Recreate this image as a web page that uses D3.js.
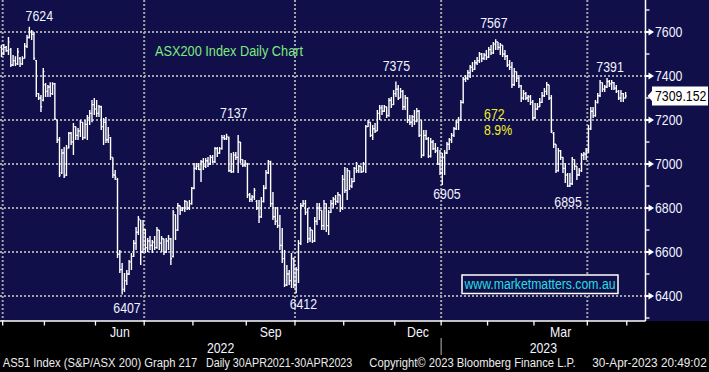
<!DOCTYPE html>
<html><head><meta charset="utf-8">
<script src="https://cdn.jsdelivr.net/npm/d3@7"></script>
<style>html,body{margin:0;padding:0;background:#000;}svg{display:block;}</style>
</head><body>
<svg id="c" width="709" height="372"></svg>
<script>
// ---- DATA (ASX200 daily OHLC, 31 Mar 2022 .. 28 Apr 2023, trading-day index) ----
const ohlc = [
[7530,7541,7486,7500],[7500,7545,7495,7530],[7530,7536,7510,7515],[7515,7577,7495,7555],[7520,7527,7441,7450],
[7450,7495,7445,7470],[7470,7490,7445,7455],[7455,7527,7450,7510],[7480,7486,7441,7455],[7455,7490,7450,7480],
[7480,7550,7480,7535],[7535,7586,7527,7575],[7575,7624,7570,7600],[7600,7609,7564,7590],[7590,7600,7473,7480],
[7470,7473,7305,7320],[7320,7323,7291,7300],[7300,7314,7236,7260],[7290,7436,7285,7420],[7360,7368,7305,7330],
[7330,7359,7305,7350],[7350,7372,7305,7320],[7320,7372,7314,7365],[7365,7368,7200,7205],[7200,7200,7095,7110],
[7110,7123,6941,6950],[6960,7068,6955,7050],[7050,7077,6936,6945],[6950,7086,6945,7070],[7075,7145,7070,7140],
[7140,7145,7086,7100],[7100,7186,7041,7170],[7170,7170,7109,7130],[7130,7164,7109,7150],[7150,7200,7123,7190],
[7190,7190,7109,7120],[7120,7200,7115,7180],[7180,7223,7109,7210],[7210,7245,7177,7230],[7230,7291,7190,7270],
[7270,7300,7223,7250],[7250,7291,7214,7230],[7230,7268,7214,7260],[7260,7265,7155,7170],[7170,7209,7086,7190],
[7190,7214,7095,7110],[7110,7168,7095,7130],[7120,7123,7018,7030],[7030,7030,6936,6950],[6950,6973,6927,6940],
[6930,6936,6573,6590],[6590,6609,6505,6520],[6520,6550,6407,6430],[6430,6505,6418,6470],[6470,6518,6450,6500],
[6500,6564,6495,6555],[6555,6595,6518,6580],[6580,6655,6577,6640],[6640,6714,6609,6690],[6690,6764,6677,6750],
[6745,6745,6541,6600],[6600,6745,6595,6700],[6700,6705,6595,6620],[6620,6664,6600,6650],[6650,6673,6609,6630],
[6630,6655,6595,6645],[6645,6673,6609,6620],[6620,6714,6615,6700],[6700,6700,6609,6640],[6640,6673,6600,6660],
[6660,6660,6586,6600],[6600,6664,6595,6650],[6650,6677,6609,6660],[6660,6664,6541,6570],[6580,6791,6575,6780],
[6770,6770,6655,6700],[6700,6823,6695,6810],[6810,6810,6768,6790],[6790,6805,6785,6800],[6800,6836,6782,6830],
[6830,6830,6791,6800],[6800,6836,6791,6820],[6820,6895,6815,6890],[6890,7005,6885,6980],[6980,7005,6973,6990],
[6990,7005,6973,6975],[6975,7018,6918,7010],[7010,7027,6973,6990],[6990,7027,6982,7015],[7015,7032,6986,7000],
[7000,7041,6995,7030],[7030,7041,7005,7010],[7010,7077,7005,7070],[7070,7077,7032,7050],[7050,7077,7045,7070],
[7070,7132,7065,7120],[7120,7132,7109,7115],[7115,7137,7109,7125],[7120,7125,6964,6970],[6970,7050,6959,6965],
[6965,7055,6960,7040],[7040,7055,7018,7030],[7030,7132,6959,7100],[7100,7100,7005,7020],[7020,7020,6986,6995],
[6995,7018,6986,7005],[7000,7005,6845,6860],[6860,6868,6827,6840],[6840,6859,6827,6850],[6850,6891,6836,6880],
[6830,6836,6791,6800],[6800,6836,6732,6760],[6760,6850,6755,6830],[6830,6905,6825,6890],[6890,6973,6885,6960],
[6960,7018,6955,7010],[7010,7015,6805,6820],[6820,6873,6745,6760],[6760,6805,6723,6740],[6740,6805,6709,6720],
[6720,6768,6609,6630],[6630,6709,6550,6570],[6570,6609,6441,6450],[6450,6541,6445,6500],[6500,6518,6450,6470],
[6470,6595,6436,6570],[6570,6575,6436,6450],[6450,6532,6412,6520],[6520,6655,6459,6640],[6640,6823,6632,6810],
[6810,6836,6805,6820],[6820,6836,6768,6780],[6780,6800,6641,6660],[6660,6714,6645,6700],[6700,6700,6641,6650],
[6650,6759,6645,6740],[6740,6823,6723,6800],[6800,6823,6745,6790],[6790,6790,6700,6720],[6720,6836,6700,6820],
[6820,6820,6691,6720],[6720,6791,6677,6780],[6780,6836,6777,6820],[6820,6850,6800,6840],[6840,6859,6814,6830],
[6830,6873,6823,6860],[6860,6860,6782,6800],[6800,6950,6791,6930],[6930,6986,6868,6880],[6880,6982,6836,6970],
[6970,6970,6882,6900],[6900,6936,6891,6920],[6920,6986,6918,6980],[6980,7009,6959,6970],[6970,6995,6959,6990],
[6990,6990,6959,6965],[6965,7009,6964,7000],[7000,7177,6959,7170],[7170,7200,7168,7190],[7190,7190,7123,7130],
[7130,7177,7109,7160],[7160,7186,7141,7150],[7150,7245,7150,7230],[7230,7268,7200,7255],[7255,7268,7223,7240],
[7240,7268,7236,7260],[7260,7260,7209,7220],[7220,7300,7215,7290],[7290,7305,7254,7270],[7270,7336,7268,7320],
[7320,7375,7305,7340],[7340,7359,7291,7300],[7300,7345,7300,7330],[7330,7336,7245,7260],[7260,7314,7245,7300],
[7300,7305,7186,7200],[7200,7223,7177,7190],[7190,7223,7168,7215],[7215,7245,7177,7195],[7195,7254,7190,7240],
[7240,7245,7123,7130],[7130,7200,7027,7040],[7040,7155,7035,7130],[7130,7155,7109,7115],[7115,7123,7027,7035],
[7035,7118,7030,7100],[7100,7109,7064,7070],[7070,7095,7050,7060],[7060,7077,6995,7000],[7000,7064,6950,6960],
[6960,7050,6905,7030],[7030,7064,6950,7050],[7050,7100,7045,7090],[7090,7118,7064,7110],[7110,7141,7095,7130],
[7130,7168,7123,7160],[7160,7200,7155,7190],[7190,7214,7155,7200],[7200,7291,7195,7280],[7280,7395,7275,7385],
[7385,7405,7373,7390],[7390,7427,7382,7415],[7415,7450,7391,7440],[7440,7464,7418,7430],[7430,7473,7427,7460],
[7460,7486,7450,7470],[7470,7509,7459,7500],[7500,7505,7464,7480],[7480,7505,7473,7495],[7495,7518,7473,7485],
[7485,7532,7482,7520],[7520,7541,7495,7505],[7505,7555,7500,7545],[7545,7567,7518,7555],[7555,7555,7518,7530],
[7530,7550,7495,7540],[7540,7540,7486,7500],[7500,7518,7473,7490],[7490,7495,7441,7450],[7450,7473,7427,7440],
[7440,7464,7345,7360],[7360,7436,7355,7420],[7420,7420,7373,7390],[7390,7405,7345,7355],[7355,7359,7282,7300],
[7300,7336,7291,7320],[7320,7327,7291,7300],[7300,7314,7282,7305],[7305,7314,7268,7280],[7280,7291,7200,7210],
[7210,7277,7205,7250],[7250,7277,7245,7260],[7260,7300,7259,7280],[7280,7327,7277,7310],[7310,7345,7305,7330],
[7330,7373,7314,7360],[7360,7360,7291,7300],[7300,7314,7141,7150],[7140,7145,7073,7090],[7090,7090,6959,6970],
[6970,7073,6965,7060],[7060,7064,7018,7030],[7030,7032,6959,6980],[6980,7005,6914,6950],[6950,6959,6895,6900],
[6900,6959,6895,6910],[6910,7032,6905,7020],[7020,7020,6973,6990],[6990,6990,6927,6950],[6950,6982,6945,6970],
[6970,7050,6964,7040],[7040,7055,7018,7045],[7045,7073,7018,7060],[7060,7177,7050,7160],[7160,7259,7155,7240],
[7240,7259,7209,7220],[7220,7291,7215,7280],[7280,7323,7275,7310],[7310,7382,7305,7370],[7370,7370,7327,7340],
[7340,7359,7327,7350],[7350,7391,7345,7375],[7375,7382,7350,7365],[7365,7382,7336,7370],[7370,7373,7336,7345],
[7345,7359,7323,7330],[7330,7336,7291,7300],[7300,7336,7282,7320],[7320,7323,7282,7300],[7300,7327,7298,7309.152]
];
const lastPrice = 7309.152;

// first trading day (index) of each month, Apr 2022 .. May 2023
const monthTickIdx = [1,19,41,62,83,106,127,148,170,190,210,230,253,270];
const monthNames   = ["Apr","May","Jun","Jul","Aug","Sep","Oct","Nov","Dec","Jan","Feb","Mar","Apr"];
const shownMonths  = ["Jun","Sep","Dec","Mar"];
const quarterTickIdx = [1,62,127,190,253];
const yearLabels = ["2022","2023"];
const yearStartIdx = 190;

const yMajor = [6400,6600,6800,7000,7200,7400,7600];
const yMinor = [6300,6500,6700,6900,7100,7300,7500,7700];

// annotations: text, anchor index, anchor price
const peakTexts  = ["7624","7137","7375","7567","7391","6905","6895","6407","6412"];
const peakIdx    = [16.3, 100.1, 170.2, 212.2, 262.3, 192.0, 244.2, 54.1, 130.1];
const peakPrice  = [7650, 7209, 7423, 7618, 7420, 6841, 6804, 6323, 6341];
const moveTexts  = ["672","8.9%"];
const moveIdx    = [208.0, 208.0];
const movePrice  = [7204.5, 7131.8];

const titleText = "ASX200 Index Daily Chart";
const urlText = "www.marketmatters.com.au";
const footerTexts = ["AS51 Index (S&P/ASX 200) Graph 217","Daily 30APR2021-30APR2023","Copyright\u00A9 2023 Bloomberg Finance L.P.","30-Apr-2023 20:49:02"];

// ---- DRAWING ----
const W = 709, H = 372;
const NAVY = "#100f4a";
const FONT = "'Liberation Sans', Arial, sans-serif";
const plotR = 645.5, plotB = 321;
const svg = d3.select("#c");
svg.append("rect").attr("width", W).attr("height", H).attr("fill", "#000");
svg.append("rect").attr("width", W).attr("height", plotB).attr("fill", NAVY);

const x = d3.scaleLinear().domain([0, 269]).range([1.5, 625.6]);
const step = x(1) - x(0);
const tx = i => x(i) - step / 2;
const y = d3.scaleLinear().domain([6286.4, 7745.45]).range([plotB, 0]);

function txt(g, s, px, py, opt) {
  const t = g.append("text")
    .attr("transform", `translate(${px},${py}) scale(${opt.sx || 0.88},1)`)
    .attr("font-family", FONT).attr("font-size", opt.size || 14)
    .attr("fill", opt.fill || "#f2f4ff")
    .attr("text-anchor", opt.anchor || "middle")
    .text(s);
  return t;
}

// gridlines
const grid = svg.append("g").attr("stroke", "#a3a3a8").attr("stroke-width", 2).attr("stroke-dasharray", "2,2");
yMajor.forEach(v => grid.append("line").attr("x1", 0).attr("x2", plotR).attr("y1", y(v)).attr("y2", y(v)));
quarterTickIdx.forEach(i => grid.append("line").attr("x1", tx(i)).attr("x2", tx(i)).attr("y1", 0).attr("y2", plotB));

// OHLC bars
const hs = step / 2;
svg.append("g").selectAll("path").data(ohlc).join("path")
  .attr("fill", "none").attr("stroke", "#ffffff").attr("stroke-width", 1.4)
  .attr("d", (d, i) => {
    const cx = x(i);
    return `M${cx},${y(d[1])}V${y(d[2])}M${cx - hs},${y(d[0])}H${cx}M${cx},${y(d[3])}H${cx + hs}`;
  });

// axes lines
svg.append("line").attr("x1", 0).attr("x2", plotR).attr("y1", plotB).attr("y2", plotB).attr("stroke", "#fff").attr("stroke-width", 1.5);
svg.append("line").attr("x1", plotR).attr("x2", plotR).attr("y1", 0).attr("y2", plotB).attr("stroke", "#fff").attr("stroke-width", 1.5);

// right axis
const ya = svg.append("g");
yMinor.forEach(v => ya.append("line").attr("x1", plotR).attr("x2", plotR + 4).attr("y1", y(v)).attr("y2", y(v)).attr("stroke", "#fff").attr("stroke-width", 1.3));
yMajor.forEach(v => {
  const yy = y(v);
  ya.append("path").attr("d", `M${plotR},${yy - 1}L${plotR + 3},${yy - 1}L${plotR + 3},${yy - 3.5}L${plotR + 8.5},${yy}L${plotR + 3},${yy + 3.5}L${plotR + 3},${yy + 1}L${plotR},${yy + 1}Z`).attr("fill", "#fff");
  txt(ya, d3.format("d")(v), 655, yy + 5, { anchor: "start" });
});

// last price box
const lp = y(lastPrice);
svg.append("path").attr("d", `M${plotR + 2},${lp}L${652},${lp - 5}L${652},${lp - 9.5}L${708},${lp - 9.5}L${708},${lp + 9.5}L${652},${lp + 9.5}L${652},${lp + 5}Z`)
  .attr("fill", "#fff");
txt(svg, d3.format(".3f")(lastPrice), 655, lp + 5.3, { anchor: "start", fill: "#000" });

// x axis ticks & labels
const xa = svg.append("g");
monthTickIdx.forEach(i => xa.append("line").attr("x1", tx(i)).attr("x2", tx(i)).attr("y1", plotB).attr("y2", plotB + 4.5).attr("stroke", "#fff").attr("stroke-width", 1.3));
monthNames.forEach((m, k) => {
  if (!shownMonths.includes(m)) return;
  const cx = (tx(monthTickIdx[k]) + tx(monthTickIdx[k + 1])) / 2;
  txt(xa, m, cx, 336.5, {});
});
const ySep = tx(yearStartIdx);
txt(xa, yearLabels[0], (0 + ySep) / 2, 352.5, {});
txt(xa, yearLabels[1], (ySep + plotR) / 2, 352.5, {});
xa.append("line").attr("x1", ySep).attr("x2", ySep).attr("y1", 338).attr("y2", 355).attr("stroke", "#8c8c8c").attr("stroke-width", 1.3);

// annotations
const an = svg.append("g");
peakTexts.forEach((s, k) => txt(an, s, x(peakIdx[k]), y(peakPrice[k]), {}));
moveTexts.forEach((s, k) => txt(an, s, x(moveIdx[k]), y(movePrice[k]), { anchor: "start", fill: "#f0f020" }));

// title
an.append("text").attr("x", 155).attr("y", 56).attr("font-family", FONT).attr("font-size", 14)
  .attr("fill", "#7eea7e").attr("textLength", 148).attr("lengthAdjust", "spacingAndGlyphs").text(titleText);

// url box
an.append("rect").attr("x", 462).attr("y", 275).attr("width", 156).attr("height", 18.5)
  .attr("fill", NAVY).attr("stroke", "#fff").attr("stroke-width", 1.5);
an.append("text").attr("x", 464.5).attr("y", 289).attr("font-family", FONT).attr("font-size", 14)
  .attr("fill", "#25dfe3").attr("textLength", 151).attr("lengthAdjust", "spacingAndGlyphs").text(urlText);

// footer
const fx = [2.7, 206, 369.3, 592.3];
const fw = [194.6, 146.3, 206.4, 114.4];
footerTexts.forEach((s, k) => svg.append("text").attr("x", fx[k]).attr("y", 367)
  .attr("font-family", FONT).attr("font-size", 12).attr("fill", "#ececec")
  .attr("textLength", fw[k]).attr("lengthAdjust", "spacingAndGlyphs").text(s));
</script>
</body></html>
